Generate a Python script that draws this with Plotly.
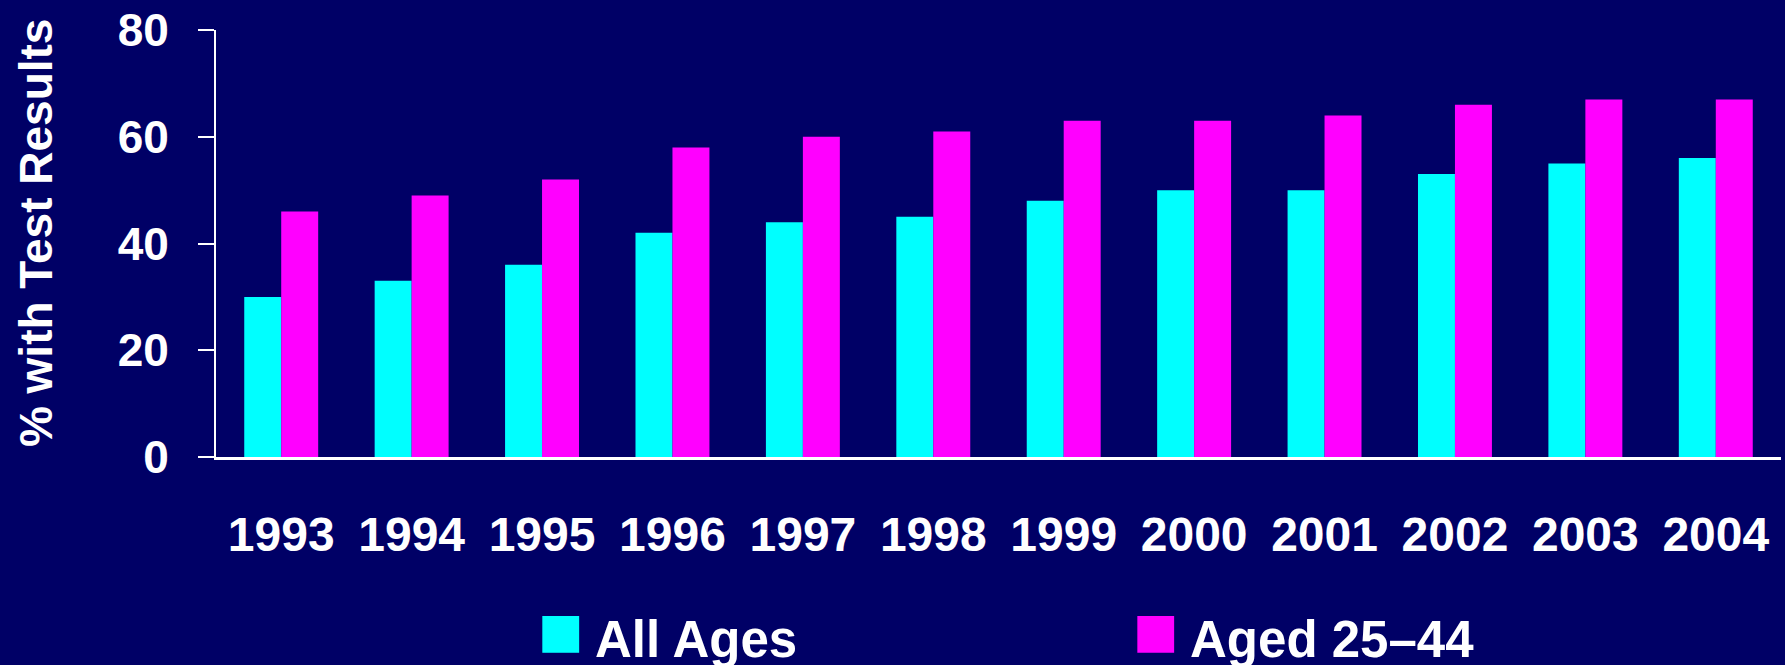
import plotly.graph_objects as go

years = ["1993", "1994", "1995", "1996", "1997", "1998", "1999", "2000", "2001", "2002", "2003", "2004"]
all_ages = [30, 33, 36, 42, 44, 45, 48, 50, 50, 53, 55, 56]
aged_25_44 = [46, 49, 52, 58, 60, 61, 63, 63, 64, 66, 67, 67]
y_ticks = [0, 20, 40, 60, 80]

BG = "#000066"
CYAN = "#00FFFF"
MAGENTA = "#FF00FF"
FONT = "Liberation Sans"

fig = go.Figure()
fig.add_trace(go.Bar(x=years, y=all_ages, name="All Ages", marker=dict(color=CYAN, line=dict(width=0)), showlegend=False))
fig.add_trace(go.Bar(x=years, y=aged_25_44, name="Aged 25–44", marker=dict(color=MAGENTA, line=dict(width=0)), showlegend=False))

W, H = 1785, 665
ml, mr, mt, mb = 216, 4, 26, 208
pw = W - ml - mr
ph = H - mt - mb

def px_x(x):
    return (x - ml) / pw

def px_y(y):
    return (H - mb - y) / ph

annotations = [
    dict(text="% with Test Results", textangle=-90, xref="paper", yref="paper",
         x=px_x(36), y=px_y(231), xanchor="center", yanchor="middle", showarrow=False,
         font=dict(family=FONT, size=46, color="white", weight="bold")),
    dict(text=f"<span style='color:{CYAN};font-size:76px'>■</span><span style='font-size:40px'> </span>All Ages",
         xref="paper", yref="paper",
         x=px_x(536), y=px_y(632), xanchor="left", yanchor="middle", showarrow=False,
         font=dict(family=FONT, size=51, color="white", weight="bold")),
    dict(text=f"<span style='color:{MAGENTA};font-size:76px'>■</span><span style='font-size:40px'> </span>Aged 25–44",
         xref="paper", yref="paper",
         x=px_x(1131), y=px_y(632), xanchor="left", yanchor="middle", showarrow=False,
         font=dict(family=FONT, size=51, color="white", weight="bold")),
]

fig.update_layout(
    width=W, height=H,
    paper_bgcolor=BG, plot_bgcolor=BG,
    margin=dict(l=ml, r=mr, t=mt, b=mb),
    barmode="group", bargap=0.433, bargroupgap=0,
    font=dict(family=FONT, color="white"),
    annotations=annotations,
    showlegend=False,
)
fig.update_xaxes(
    type="category", range=[-0.5, 11.5],
    showline=True, linecolor="white", linewidth=3,
    ticks="", showgrid=False, zeroline=False,
    tickfont=dict(family=FONT, size=48, color="white", weight="bold"),
    ticklabelstandoff=33,
)
fig.update_yaxes(
    range=[0, 80], tickvals=y_ticks, ticktext=[str(v) for v in y_ticks],
    showline=True, linecolor="white", linewidth=2,
    ticks="outside", ticklen=16, tickwidth=2, tickcolor="white",
    showgrid=False, zeroline=False,
    tickfont=dict(family=FONT, size=46, color="white", weight="bold"),
    ticklabelstandoff=20,
)

fig.write_html("out.html", config={"displayModeBar": False},
               post_script="document.body.style.margin='0';document.body.style.overflow='hidden';")
